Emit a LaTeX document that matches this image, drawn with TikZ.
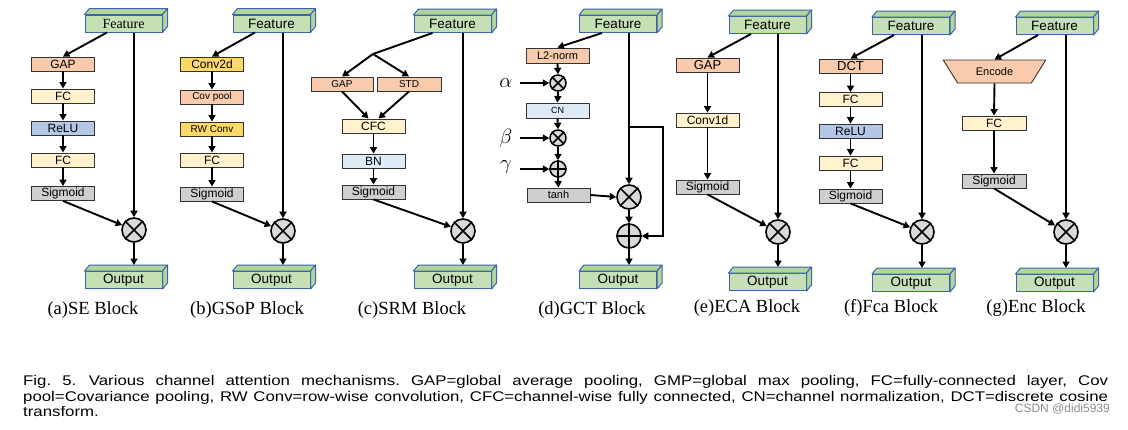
\documentclass[tikz,border=0pt]{standalone}
\usepackage{fontspec}
\setmainfont{Liberation Serif}
\setsansfont{Liberation Sans}
\newfontfamily\figcapfont[FakeStretch=1.2]{Liberation Sans}
\usetikzlibrary{calc,arrows.meta,shapes.geometric}
\definecolor{cgreen}{HTML}{C5E0B4}
\definecolor{cgreenD}{HTML}{B2D69A}
\definecolor{cblueB}{HTML}{3B64AD}
\definecolor{csalmon}{HTML}{F8CBAD}
\definecolor{cyellow}{HTML}{FFF2CC}
\definecolor{cgold}{HTML}{FFD966}
\definecolor{crelu}{HTML}{B4C7E7}
\definecolor{clblue}{HTML}{DEEBF7}
\definecolor{cgray}{HTML}{D0CECE}
\definecolor{ccirc}{HTML}{D9D9D9}
\newcommand{\cubefaces}[1]{%
  \filldraw[cubeside] (#1.north west) -- ++(5,-6) -- ($(#1.north east)+(5,-6)$) -- (#1.north east) -- cycle;
  \filldraw[cubeside] (#1.north east) -- ++(5,-6) -- ($(#1.south east)+(5,-6)$) -- (#1.south east) -- cycle;}
\newcommand{\mulmark}[1]{\draw[line width=1.5pt] (#1.north west)--(#1.south east) (#1.north east)--(#1.south west);}
\newcommand{\addmark}[1]{\draw[line width=1.5pt] (#1.north)--(#1.south) (#1.west)--(#1.east);}
\tikzset{
  box/.style={draw=black!80, line width=0.9pt, minimum width=63pt, minimum height=14pt, inner sep=0pt, font=\sffamily\fontsize{12}{12}\selectfont},
  smallfont/.style={font=\sffamily\fontsize{10}{10}\selectfont},
  cube/.style={draw=cblueB, fill=cgreen, line width=1pt, minimum width=77pt, minimum height=17pt, inner sep=0pt, font=\sffamily\fontsize{13.5}{13.5}\selectfont},
  cubeside/.style={draw=cblueB, fill=cgreenD, line width=1pt, line join=round},
  arr/.style={line width=1.9pt, -{Triangle[length=6.5pt,width=7pt]}},
  plain/.style={line width=1.9pt},
  op/.style={circle, draw=black, line width=1.6pt, fill=ccirc, minimum size=24pt, inner sep=0pt},
  ops/.style={circle, draw=black, line width=1.5pt, fill=ccirc, minimum size=16pt, inner sep=0pt},
  blocklabel/.style={font=\rmfamily\fontsize{18.5}{18.5}\selectfont, inner sep=0pt},
  glab/.style={font=\fontsize{20}{20}\selectfont, inner sep=0pt},
  figtext/.style={anchor=base west, inner sep=0pt, font=\figcapfont\fontsize{14}{14}\selectfont},
}
\begin{document}
\frenchspacing
\begin{tikzpicture}[x=1pt,y=-1pt]
\fill[white] (0,0) rectangle (1128,429);
\useasboundingbox (0,0) rectangle (1128,429);

% ---------- (a) SE ----------
\node[cube, font=\rmfamily\fontsize{14}{14}\selectfont] (fA) at (123.5,23.5) {Feature}; \cubefaces{fA}
\node[box, fill=csalmon] (a1) at (63,64) {GAP};
\node[box, fill=cyellow] (a2) at (63,96) {FC};
\node[box, fill=crelu] (a3) at (63,128) {ReLU};
\node[box, fill=cyellow] (a4) at (63,160) {FC};
\node[box, fill=cgray] (a5) at (63,193.5) {Sigmoid};
\node[op] (mA) at (134,230) {}; \mulmark{mA}
\node[cube] (oA) at (123.5,280) {Output}; \cubefaces{oA}
\draw[arr] ($(fA.south)+(-16.5,0)$) -- (a1.north);
\draw[arr] (a1.south) -- (a2.north);
\draw[arr] (a2.south) -- (a3.north);
\draw[arr] (a3.south) -- (a4.north);
\draw[arr] (a4.south) -- (a5.north);
\draw[arr] (a5.south) -- (mA);
\draw[arr] (mA |- fA.south) -- (mA.north);
\draw[arr] (mA.south) -- ($(mA |- oA.north)+(0,-6)$);
\node[blocklabel] (cA) at (93,310) {(a)SE Block};

% ---------- (b) GSoP ----------
\node[cube] (fB) at (271.5,23.5) {Feature}; \cubefaces{fB}
\node[box, fill=cgold] (b1) at (212,64) {Conv2d};
\node[box, fill=csalmon, smallfont] (b2) at (212,97) {Cov pool};
\node[box, fill=cgold, smallfont] (b3) at (212,129) {RW Conv};
\node[box, fill=cyellow] (b4) at (212,160) {FC};
\node[box, fill=cgray] (b5) at (212,194) {Sigmoid};
\node[op] (mB) at (283,231) {}; \mulmark{mB}
\node[cube] (oB) at (271.5,280) {Output}; \cubefaces{oB}
\draw[arr] ($(fB.south)+(-16.5,0)$) -- (b1.north);
\draw[arr] (b1.south) -- (b2.north);
\draw[arr] (b2.south) -- (b3.north);
\draw[arr] (b3.south) -- (b4.north);
\draw[arr] (b4.south) -- (b5.north);
\draw[arr] (b5.south) -- (mB);
\draw[arr] (mB |- fB.south) -- (mB.north);
\draw[arr] (mB.south) -- ($(mB |- oB.north)+(0,-6)$);
\node[blocklabel] (cB) at (247,310) {(b)GSoP Block};

% ---------- (c) SRM ----------
\node[cube] (fC) at (452.5,24) {Feature}; \cubefaces{fC}
\coordinate (brC) at (373,54);
\node[box, fill=csalmon, smallfont, minimum width=62pt] (c1) at (342,84) {GAP};
\node[box, fill=csalmon, smallfont, minimum width=64pt] (c2) at (409,84) {STD};
\node[box, fill=cyellow] (c3) at (373.5,126) {CFC};
\node[box, fill=clblue] (c4) at (373.5,161) {BN};
\node[box, fill=cgray] (c5) at (373.5,192) {Sigmoid};
\node[op] (mC) at (463,231) {}; \mulmark{mC}
\node[cube] (oC) at (452.5,280) {Output}; \cubefaces{oC}
\draw[plain] ($(fC.south)+(-20,0)$) -- (brC);
\draw[arr] (brC) -- (c1.north);
\draw[arr] (brC) -- (c2.north);
\draw[arr] (c1.south) -- ($(c3.north)+(-5,0)$);
\draw[arr] (c2.south) -- ($(c3.north)+(5,0)$);
\draw[arr] (c3.south) -- (c4.north);
\draw[arr] (c4.south) -- (c5.north);
\draw[arr] (c5.south) -- (mC);
\draw[arr] (mC |- fC.south) -- (mC.north);
\draw[arr] (mC.south) -- ($(mC |- oC.north)+(0,-6)$);
\node[blocklabel] (cC) at (412,310) {(c)SRM Block};

% ---------- (d) GCT ----------
\node[cube] (fD) at (618,24) {Feature}; \cubefaces{fD}
\node[box, fill=csalmon, minimum height=15pt, font=\sffamily\fontsize{11}{11}\selectfont] (d1) at (557.5,55.5) {L2-norm};
\node[ops] (sA) at (558,83) {}; \mulmark{sA}
\node[box, fill=clblue, minimum height=15pt, font=\sffamily\fontsize{9}{9}\selectfont] (d2) at (557.5,110.5) {CN};
\node[ops] (sB) at (558,138) {}; \mulmark{sB}
\node[ops] (sG) at (558,169) {}; \addmark{sG}
\node[box, fill=cgray, font=\sffamily\fontsize{11}{11}\selectfont] (d3) at (558.5,195) {tanh};
\node[op] (mD) at (629,197) {}; \mulmark{mD}
\node[op] (pD) at (629,236) {}; \addmark{pD}
\node[cube] (oD) at (618,280) {Output}; \cubefaces{oD}
\node[glab] (la) at (506,83) {$\alpha$};
\node[glab] (lb) at (506,138) {$\beta$};
\node[glab] (lg) at (506,167) {$\gamma$};
\coordinate (kD) at (663,127);
\draw[arr] ($(fD.south)+(-16,0)$) -- (d1.north);
\draw[arr] (d1.south) -- (sA.north);
\draw[arr] (sA.south) -- (d2.north);
\draw[arr] (d2.south) -- (sB.north);
\draw[arr] (sB.south) -- (sG.north);
\draw[arr] (sG.south) -- (d3.north);
\draw[arr] (520,83) -- (sA.west);
\draw[arr] (520,138) -- (sB.west);
\draw[arr] (520,169) -- (sG.west);
\draw[arr] (d3.east) -- (mD.west);
\draw[arr] (mD |- fD.south) -- (mD.north);
\draw[arr] (mD.south) -- (pD.north);
\draw[arr, line join=miter] (mD |- kD) -- (kD) -- (kD |- pD) -- (pD.east);
\draw[arr] (pD.south) -- ($(pD |- oD.north)+(0,-6)$);
\node[blocklabel] (cD) at (592,310) {(d)GCT Block};

% ---------- (e) ECA ----------
\node[cube] (fE) at (767.5,25) {Feature}; \cubefaces{fE}
\node[box, fill=csalmon, font=\sffamily\fontsize{13}{13}\selectfont] (e1) at (707.5,65) {GAP};
\node[box, fill=cyellow] (e2) at (707.5,120) {Conv1d};
\node[box, fill=cgray] (e3) at (707.5,187) {Sigmoid};
\node[op] (mE) at (778,232) {}; \mulmark{mE}
\node[cube] (oE) at (767.5,282) {Output}; \cubefaces{oE}
\draw[arr] ($(fE.south)+(-16.5,0)$) -- (e1.north);
\draw[arr] (e1.south) -- (e2.north);
\draw[arr] (e2.south) -- (e3.north);
\draw[arr] (e3.south) -- (mE);
\draw[arr] (mE |- fE.south) -- (mE.north);
\draw[arr] (mE.south) -- ($(mE |- oE.north)+(0,-6)$);
\node[blocklabel] (cE) at (747,308) {(e)ECA Block};

% ---------- (f) Fca ----------
\node[cube] (fF) at (911,26) {Feature}; \cubefaces{fF}
\node[box, fill=csalmon, font=\sffamily\fontsize{13}{13}\selectfont] (f1) at (850.5,66) {DCT};
\node[box, fill=cyellow] (f2) at (850.5,99.5) {FC};
\node[box, fill=crelu] (f3) at (850.5,131) {ReLU};
\node[box, fill=cyellow] (f4) at (850.5,163) {FC};
\node[box, fill=cgray] (f5) at (850.5,196) {Sigmoid};
\node[op] (mF) at (922,232) {}; \mulmark{mF}
\node[cube] (oF) at (911,283) {Output}; \cubefaces{oF}
\draw[arr] ($(fF.south)+(-17,0)$) -- (f1.north);
\draw[arr] (f1.south) -- (f2.north);
\draw[arr] (f2.south) -- (f3.north);
\draw[arr] (f3.south) -- (f4.north);
\draw[arr] (f4.south) -- (f5.north);
\draw[arr] (f5.south) -- (mF);
\draw[arr] (mF |- fF.south) -- (mF.north);
\draw[arr] (mF.south) -- ($(mF |- oF.north)+(0,-6)$);
\node[blocklabel] (cF) at (891,308) {(f)Fca Block};

% ---------- (g) Enc ----------
\node[cube] (fG) at (1054.5,26) {Feature}; \cubefaces{fG}
\node[trapezium, trapezium angle=48, trapezium stretches=true, shape border rotate=180,
      minimum width=103pt, minimum height=23pt, inner sep=0pt, draw=black!80, line width=0.9pt,
      fill=csalmon, font=\sffamily\fontsize{11}{11}\selectfont] (g1) at (994.5,71.5) {Encode};
\node[box, fill=cyellow, minimum width=64pt] (g2) at (994,123) {FC};
\node[box, fill=cgray, minimum width=64pt] (g3) at (994,181) {Sigmoid};
\node[op] (mG) at (1066,232) {}; \mulmark{mG}
\node[cube] (oG) at (1054.5,283) {Output}; \cubefaces{oG}
\draw[arr] ($(fG.south)+(-16.5,0)$) -- (g1.north);
\draw[arr] (g1.south) -- (g2.north);
\draw[arr] (g2.south) -- (g3.north);
\draw[arr] (g3.south) -- (mG);
\draw[arr] (mG |- fG.south) -- (mG.north);
\draw[arr] (mG.south) -- ($(mG |- oG.north)+(0,-6)$);
\node[blocklabel] (cG) at (1036,308) {(g)Enc Block};

% ---------- figure caption ----------
\node[figtext] (t1) at (23,385) {\hbox to 1085pt{Fig. 5.\hspace{0.9em}Various channel attention mechanisms. GAP=global average pooling, GMP=global max pooling, FC=fully-connected layer, Cov}};
\node[figtext] (t2) at (23,401) {\hbox to 1085pt{pool=Covariance pooling, RW Conv=row-wise convolution, CFC=channel-wise fully connected, CN=channel normalization, DCT=discrete cosine}};
\node[figtext] (t3) at (23,416.5) {transform.};
\node[anchor=base east, inner sep=0pt, text=black!45, font=\sffamily\fontsize{12}{12}\selectfont] (wm) at (1110,412) {CSDN @didi5939};
\end{tikzpicture}
\end{document}
